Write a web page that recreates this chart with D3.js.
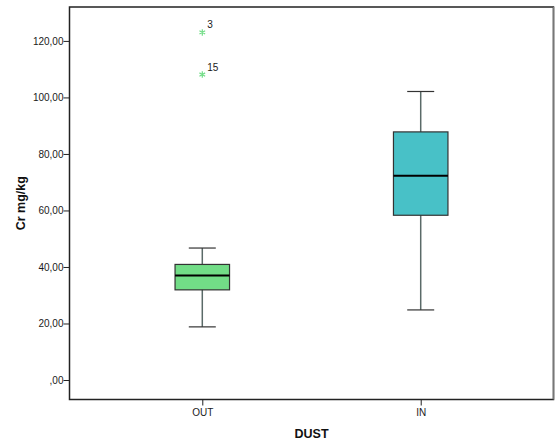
<!DOCTYPE html>
<html>
<head>
<meta charset="utf-8">
<script src="https://cdn.jsdelivr.net/npm/d3@7"></script>
<style>
  body { margin: 0; background: #fff; }
  svg { display: block; }
  text { font-family: "Liberation Sans", Arial, sans-serif; }
</style>
</head>
<body>
<div class="chart"></div>
<script>
// box plot data
var groups = ["OUT", "IN"];
var whiskerLow = [18.8, 24.8];
var q1 = [31.9, 58.3];
var median = [37.0, 72.3];
var q3 = [40.9, 87.8];
var whiskerHigh = [46.7, 102.1];
var boxColors = ["#72dd87", "#48c1c7"];
// extreme values (asterisks) with case numbers
var outGroup = ["OUT", "OUT"];
var outValue = [123.0, 108.1];
var outCase = ["3", "15"];
var yTicks = [0, 20, 40, 60, 80, 100, 120];

var svgWidth = 555, svgHeight = 445;
var margin = {top: 7, right: 1.5, bottom: 45.5, left: 69.5};
var width = svgWidth - margin.left - margin.right;
var height = svgHeight - margin.top - margin.bottom;

var svg = d3.select(".chart").append("svg")
  .attr("width", svgWidth)
  .attr("height", svgHeight);

var chartGroup = svg.append("g")
  .attr("transform", `translate(${margin.left},${margin.top})`);

//scales
var xScale = d3.scalePoint()
  .domain(groups)
  .range([0, width])
  .padding(0.608);
var yScale = d3.scaleLinear()
  .domain([-6.9, 132.0])
  .range([height, 0]);

// frame
chartGroup.append("rect")
  .attr("x", 0).attr("y", 0)
  .attr("width", width).attr("height", height)
  .attr("fill", "none")
  .attr("stroke", "#222")
  .attr("stroke-width", 1.5);
chartGroup.append("line")
  .attr("x1", width).attr("x2", width)
  .attr("y1", 0).attr("y2", height)
  .attr("stroke", "#777").attr("stroke-width", 1.5);

//axes
var yAxis = d3.axisLeft(yScale)
  .tickValues(yTicks)
  .tickSize(6)
  .tickFormat(d => d === 0 ? ",00" : d3.format(".2f")(d).replace(".", ","));
var yG = chartGroup.append("g").call(yAxis);
yG.select(".domain").remove();
yG.selectAll(".tick line").attr("stroke", "#222");
yG.selectAll(".tick text")
  .attr("font-size", "10px")
  .attr("fill", "#1a1a1a")
  .attr("x", -6)
  .attr("font-family", "Liberation Sans, Arial, sans-serif");

var xAxis = d3.axisBottom(xScale).tickSize(6);
var xG = chartGroup.append("g")
  .attr("transform", `translate(0,${height})`)
  .call(xAxis);
xG.select(".domain").remove();
xG.selectAll(".tick line").attr("stroke", "#222");
xG.selectAll(".tick text")
  .attr("font-size", "10px")
  .attr("fill", "#1a1a1a")
  .attr("y", 9)
  .attr("font-family", "Liberation Sans, Arial, sans-serif");

// axis titles
svg.append("text")
  .attr("transform", `translate(25,${margin.top + height / 2}) rotate(-90)`)
  .attr("text-anchor", "middle")
  .attr("font-size", "12.5px")
  .attr("font-weight", "bold")
  .attr("fill", "#111")
  .text("Cr mg/kg");
svg.append("text")
  .attr("x", margin.left + width / 2)
  .attr("y", 438)
  .attr("text-anchor", "middle")
  .attr("font-size", "12.5px")
  .attr("font-weight", "bold")
  .attr("fill", "#111")
  .text("DUST");

// boxes
var boxW = 54.5, capW = 27;
var boxData = groups.map((g, i) => ({
  g: g, lo: whiskerLow[i], q1: q1[i], med: median[i], q3: q3[i], hi: whiskerHigh[i], color: boxColors[i]
}));
var boxes = chartGroup.selectAll(".box")
  .data(boxData)
  .enter()
  .append("g")
  .attr("class", "box");

boxes.append("line")
  .attr("x1", d => xScale(d.g)).attr("x2", d => xScale(d.g))
  .attr("y1", d => yScale(d.hi)).attr("y2", d => yScale(d.lo))
  .attr("stroke", "#5a6a68").attr("stroke-width", 1.5);
boxes.append("line")
  .attr("x1", d => xScale(d.g) - capW / 2).attr("x2", d => xScale(d.g) + capW / 2)
  .attr("y1", d => yScale(d.hi)).attr("y2", d => yScale(d.hi))
  .attr("stroke", "#333").attr("stroke-width", 1.2);
boxes.append("line")
  .attr("x1", d => xScale(d.g) - capW / 2).attr("x2", d => xScale(d.g) + capW / 2)
  .attr("y1", d => yScale(d.lo)).attr("y2", d => yScale(d.lo))
  .attr("stroke", "#333").attr("stroke-width", 1.2);
boxes.append("rect")
  .attr("x", d => xScale(d.g) - boxW / 2)
  .attr("y", d => yScale(d.q3))
  .attr("width", boxW)
  .attr("height", d => yScale(d.q1) - yScale(d.q3))
  .attr("fill", d => d.color)
  .attr("stroke", "#333")
  .attr("stroke-width", 1.2);
boxes.append("line")
  .attr("x1", d => xScale(d.g) - boxW / 2).attr("x2", d => xScale(d.g) + boxW / 2)
  .attr("y1", d => yScale(d.med)).attr("y2", d => yScale(d.med))
  .attr("stroke", "#000").attr("stroke-width", 2);

// extremes
var star = d3.symbol().type(d3.symbolAsterisk).size(30);
var outData = outValue.map((v, i) => ({g: outGroup[i], v: v, c: outCase[i]}));
chartGroup.selectAll(".ext")
  .data(outData)
  .enter()
  .append("path")
  .attr("class", "ext")
  .attr("d", star)
  .attr("transform", d => `translate(${xScale(d.g)},${yScale(d.v)})`)
  .attr("fill", "none")
  .attr("stroke", "#72dd87")
  .attr("stroke-width", 1.2);
chartGroup.selectAll(".extlabel")
  .data(outData)
  .enter()
  .append("text")
  .attr("x", d => xScale(d.g) + 5)
  .attr("y", d => yScale(d.v) - 4)
  .attr("font-size", "10px")
  .attr("fill", "#1a1a1a")
  .text(d => d.c);
</script>
</body>
</html>
